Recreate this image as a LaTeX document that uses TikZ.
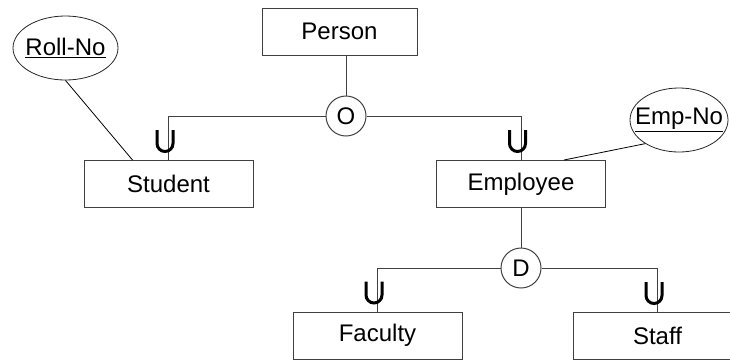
\documentclass[tikz,border=0pt]{standalone}
\usepackage{fontspec}
\setmainfont{Liberation Sans}
\usetikzlibrary{shapes.geometric}
\tikzset{
  entity/.style={draw=black!75, line width=1pt, minimum width=169pt, minimum height=47pt, inner sep=0pt},
  attr/.style={ellipse, draw=black!85, line width=0.8pt, inner sep=0pt, minimum height=64pt},
  spec/.style={circle, draw=black!75, line width=1pt, minimum size=40pt, inner sep=0pt},
  conn/.style={draw=black!75, line width=1pt},
  usym/.style={line width=3pt},
}
\begin{document}
\begin{tikzpicture}[x=1pt,y=1pt,font=\fontsize{24}{28}\selectfont]
\useasboundingbox (0,0) rectangle (730,-360);
\clip (0,0) rectangle (730,-360);
% Entities
\node[entity, minimum width=155pt] (Person) at (339.5,-31.5) {Person};
\node[entity] (Student) at (168.5,-184) {Student};
\node[entity] (Employee) at (521,-184) {Employee};
\node[entity] (Faculty) at (377.5,-335.5) {Faculty};
\node[entity] (Staff) at (657.5,-336) {Staff};
% Specialisation circles
\node[spec] (O) at (346,-116) {O};
\node[spec] (D) at (521,-268) {D};
% Key attributes
\node[attr, minimum width=105pt] (RollNo) at (65.5,-48) {\makebox[0pt]{\underline{Roll-No}}};
\node[attr, minimum width=98pt] (EmpNo) at (679,-120) {\makebox[0pt]{\underline{Emp-No}}};
% Connectors
\draw[conn] (O.north) -- (O.north |- Person.south);
\draw[conn] (O.west) -| (Student.north);
\draw[conn] (O.east) -| (Employee.north);
\draw[conn] (Employee.south) -- (D.north);
\draw[conn] (D.west) -| (Faculty.north);
\draw[conn] (D.east) -| (Staff.north);
\draw[line width=0.8pt] (RollNo.south) -- ([xshift=49pt]Student.north west);
\draw[line width=0.8pt] (EmpNo.215) -- ([xshift=-42pt]Employee.north east);
% Subset marks
\foreach \n in {Student,Employee,Faculty,Staff}
  \draw[usym] ([shift={(-11.5,30)}]\n.north) -- ([shift={(-11.5,16.5)}]\n.north)
    arc[start angle=180, end angle=360, radius=8] -- ([shift={(4.5,30)}]\n.north);
\end{tikzpicture}
\end{document}
